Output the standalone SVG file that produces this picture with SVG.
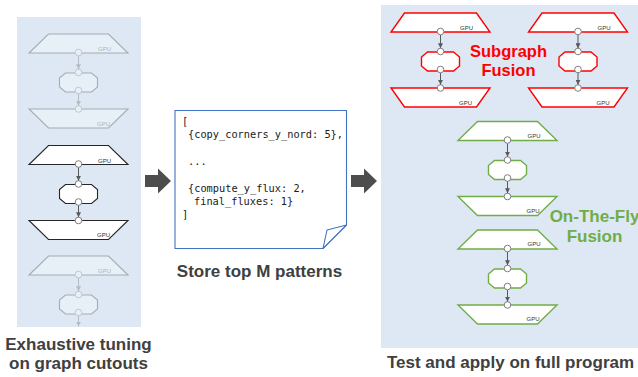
<svg xmlns="http://www.w3.org/2000/svg" width="638" height="377" viewBox="0 0 638 377">
<style>
.panel{fill:#dde8f4}
.shape{fill:#fff;stroke-width:1.1}
.dark{stroke:#262626}
.red{stroke:#ff0000;stroke-width:1.4}
.green{stroke:#70ad47;stroke-width:1.4}
.port{fill:#fff;stroke:#7f7f7f;stroke-width:1}
.gpu{font-family:"Liberation Sans",Arial,sans-serif;font-size:6px;fill:#333;text-anchor:middle}
.edge{stroke:#595959;stroke-width:1;fill:none;marker-end:url(#ah)}
.cap{font-family:"Liberation Sans",Arial,sans-serif;font-weight:bold;font-size:17px;fill:#404040;text-anchor:middle}
.code{font-family:"DejaVu Sans Mono","Liberation Mono",monospace;font-size:10.3px;fill:#1a1a1a}
.faded{opacity:.3}
.big{fill:#4d4d4d}
.fusionR{font-family:"Liberation Sans",Arial,sans-serif;font-weight:bold;font-size:16.5px;fill:#ff0000;text-anchor:middle}
.fusionG{font-family:"Liberation Sans",Arial,sans-serif;font-weight:bold;font-size:17px;fill:#70ad47;text-anchor:middle}
</style>
<defs>
<marker id="ah" markerWidth="5" markerHeight="5" refX="5" refY="2.5" orient="auto" markerUnits="userSpaceOnUse"><path d="M0,0 L5,2.5 L0,5 Z" fill="#595959"/></marker>
<polygon id="trapT" points="-30,0 30,0 49.5,19 -49.5,19"/>
<polygon id="trapB" points="-49.5,0 49.5,0 30,19 -30,19"/>
<polygon id="trapTr" points="-36,0 36,0 49.5,19 -49.5,19"/>
<polygon id="trapBr" points="-49.5,0 49.5,0 36,19 -36,19"/>
<polygon id="oct" points="-13,0 13,0 19,5 19,14 13,19 -13,19 -19,14 -19,5"/>
</defs>

<g id="panels">
<rect class="panel" x="17" y="17" width="124" height="310"/>
<rect class="panel" x="381" y="5" width="257" height="343"/>
</g>

<!-- Left panel, stack 1 (faded) -->
<g id="l1-top" class="faded" transform="translate(78.5,34)">
<use href="#trapT" class="shape dark"/><text class="gpu" x="26" y="17">GPU</text>
<circle class="port" cx="0" cy="18.5" r="3.3"/>
</g>
<g id="l1-kernel" class="faded" transform="translate(78.5,73)">
<use href="#oct" class="shape dark"/>
<circle class="port" cx="0" cy="-0.5" r="3.3"/><circle class="port" cx="0" cy="17.5" r="3.3"/>
</g>
<g id="l1-bottom" class="faded" transform="translate(78.5,109)">
<use href="#trapB" class="shape dark"/><text class="gpu" x="25" y="16.5">GPU</text>
<circle class="port" cx="0" cy="0" r="3.3"/>
</g>

<!-- Left panel, stack 2 (active) -->
<g id="l2-top" transform="translate(78.5,145.5)">
<use href="#trapT" class="shape dark"/><text class="gpu" x="26" y="17">GPU</text>
<circle class="port" cx="0" cy="18.5" r="3.3"/>
</g>
<g id="l2-kernel" transform="translate(78.5,184.5)">
<use href="#oct" class="shape dark"/>
<circle class="port" cx="0" cy="-0.5" r="3.3"/><circle class="port" cx="0" cy="17.5" r="3.3"/>
</g>
<g id="l2-bottom" transform="translate(78.5,220.5)">
<use href="#trapB" class="shape dark"/><text class="gpu" x="25" y="16.5">GPU</text>
<circle class="port" cx="0" cy="0" r="3.3"/>
</g>

<!-- Left panel, stack 3 (faded) -->
<g id="l3-top" class="faded" transform="translate(78.5,256)">
<use href="#trapT" class="shape dark"/><text class="gpu" x="26" y="17">GPU</text>
<circle class="port" cx="0" cy="18.5" r="3.3"/>
</g>
<g id="l3-kernel" class="faded" transform="translate(78.5,295)">
<use href="#oct" class="shape dark"/>
<circle class="port" cx="0" cy="-0.5" r="3.3"/><circle class="port" cx="0" cy="17.5" r="3.3"/>
</g>

<!-- Document -->
<g id="patterns-doc">
<path d="M175,110.5 H346.5 V225 L323,248.5 H175 Z" fill="#fff" stroke="#4472c4" stroke-width="1.1"/>
<path d="M323,248.5 L327,230 L346.5,225 Z" fill="#fff" stroke="#4472c4" stroke-width="1.1" stroke-linejoin="round"/>
<text class="code" x="182" y="125">[</text>
<text class="code" x="188" y="138.3">{copy_corners_y_nord: 5},</text>
<text class="code" x="188" y="164.9">...</text>
<text class="code" x="188" y="191.5">{compute_y_flux: 2,</text>
<text class="code" x="194" y="204.8">final_fluxes: 1}</text>
<text class="code" x="182" y="218.1">]</text>
</g>

<!-- Right panel, red stacks -->
<g id="r1-top" transform="translate(440.5,13)">
<use href="#trapTr" class="shape red"/><text class="gpu" x="26" y="16.5">GPU</text>
<circle class="port" cx="0" cy="18.5" r="3.3"/>
</g>
<g id="r1-kernel" transform="translate(440.5,52)">
<use href="#oct" class="shape red"/>
<circle class="port" cx="0" cy="-0.5" r="3.3"/><circle class="port" cx="0" cy="17.5" r="3.3"/>
</g>
<g id="r1-bottom" transform="translate(440.5,88)">
<use href="#trapBr" class="shape red"/><text class="gpu" x="25" y="16.5">GPU</text>
<circle class="port" cx="0" cy="0" r="3.3"/>
</g>
<g id="r2-top" transform="translate(578,13)">
<use href="#trapTr" class="shape red"/><text class="gpu" x="26" y="16.5">GPU</text>
<circle class="port" cx="0" cy="18.5" r="3.3"/>
</g>
<g id="r2-kernel" transform="translate(578,52)">
<use href="#oct" class="shape red"/>
<circle class="port" cx="0" cy="-0.5" r="3.3"/><circle class="port" cx="0" cy="17.5" r="3.3"/>
</g>
<g id="r2-bottom" transform="translate(578,88)">
<use href="#trapBr" class="shape red"/><text class="gpu" x="25" y="16.5">GPU</text>
<circle class="port" cx="0" cy="0" r="3.3"/>
</g>

<!-- Right panel, green stacks -->
<g id="g1-top" transform="translate(507.5,121.5)">
<use href="#trapT" class="shape green"/><text class="gpu" x="26.5" y="16">GPU</text>
<circle class="port" cx="0" cy="18.5" r="3.3"/>
</g>
<g id="g1-kernel" transform="translate(507.5,160.5)">
<use href="#oct" class="shape green"/>
<circle class="port" cx="0" cy="-0.5" r="3.3"/><circle class="port" cx="0" cy="17.5" r="3.3"/>
</g>
<g id="g1-bottom" transform="translate(507.5,196.5)">
<use href="#trapB" class="shape green"/><text class="gpu" x="25.5" y="16">GPU</text>
<circle class="port" cx="0" cy="0" r="3.3"/>
</g>
<g id="g2-top" transform="translate(507.5,230)">
<use href="#trapT" class="shape green"/><text class="gpu" x="26.5" y="16">GPU</text>
<circle class="port" cx="0" cy="18.5" r="3.3"/>
</g>
<g id="g2-kernel" transform="translate(507.5,269)">
<use href="#oct" class="shape green"/>
<circle class="port" cx="0" cy="-0.5" r="3.3"/><circle class="port" cx="0" cy="17.5" r="3.3"/>
</g>
<g id="g2-bottom" transform="translate(507.5,305)">
<use href="#trapB" class="shape green"/><text class="gpu" x="25.5" y="16">GPU</text>
<circle class="port" cx="0" cy="0" r="3.3"/>
</g>

<g id="connectors">
<g class="faded">
<line class="edge" x1="78.5" y1="56" x2="78.5" y2="69.2"/>
<line class="edge" x1="78.5" y1="94" x2="78.5" y2="105.7"/>
<line class="edge" x1="78.5" y1="278" x2="78.5" y2="291.2"/>
<line class="edge" x1="78.5" y1="316" x2="78.5" y2="326.5"/>
</g>
<line class="edge" x1="78.5" y1="167.5" x2="78.5" y2="180.7"/>
<line class="edge" x1="78.5" y1="205.5" x2="78.5" y2="217.2"/>
<line class="edge" x1="440.5" y1="35" x2="440.5" y2="48.2"/>
<line class="edge" x1="440.5" y1="73" x2="440.5" y2="84.7"/>
<line class="edge" x1="578" y1="35" x2="578" y2="48.2"/>
<line class="edge" x1="578" y1="73" x2="578" y2="84.7"/>
<line class="edge" x1="507.5" y1="143.5" x2="507.5" y2="156.7"/>
<line class="edge" x1="507.5" y1="181.5" x2="507.5" y2="193.2"/>
<line class="edge" x1="507.5" y1="252" x2="507.5" y2="265.2"/>
<line class="edge" x1="507.5" y1="290" x2="507.5" y2="301.7"/>
<path class="big" d="M145,175 H158 V168.5 L171,181 L158,193.5 V187 H145 Z"/>
<path class="big" d="M351,175 H364 V168.5 L377,181 L364,193.5 V187 H351 Z"/>
</g>

<g id="labels">
<text class="fusionR" x="508.5" y="57">Subgraph</text>
<text class="fusionR" x="508.5" y="76">Fusion</text>
<text class="fusionG" x="594.5" y="222">On-The-Fly</text>
<text class="fusionG" x="594.5" y="242">Fusion</text>
<text class="cap" x="78.5" y="350">Exhaustive tuning</text>
<text class="cap" x="78.5" y="369">on graph cutouts</text>
<text class="cap" x="259.5" y="277">Store top M patterns</text>
<text class="cap" x="510.5" y="368">Test and apply on full program</text>
</g>
</svg>
